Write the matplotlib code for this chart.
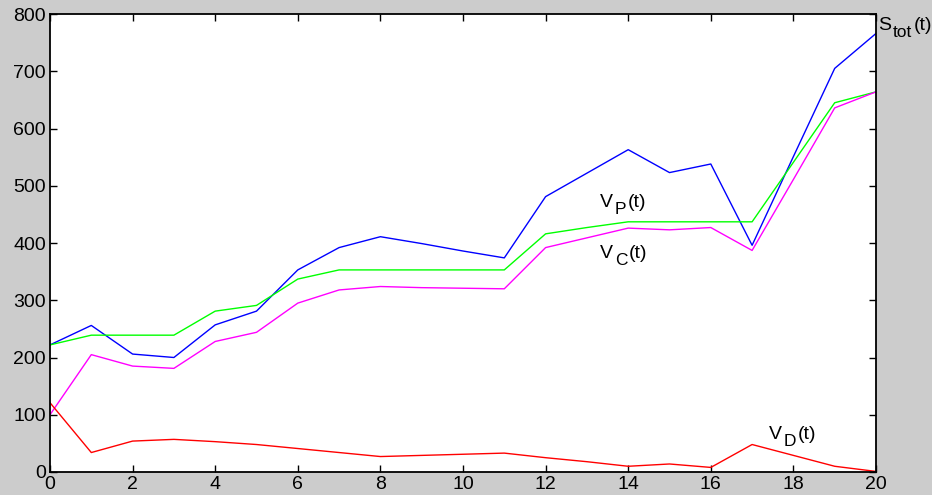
import matplotlib
matplotlib.use("Agg")
import matplotlib.pyplot as plt
from matplotlib.transforms import offset_copy

plt.rcParams['font.family'] = ['Liberation Sans', 'DejaVu Sans']

t = list(range(21))
s_tot = [222, 256, 206, 200, 257, 281, 353, 392, 411, 399, 386, 374, 481, 522, 563, 523, 538, 396, 551, 705, 766]
v_p = [222, 239, 239, 239, 281, 291, 337, 353, 353, 353, 353, 353, 416, 427, 437, 437, 437, 437, 541, 645, 664]
v_c = [100, 205, 185, 181, 228, 244, 295, 318, 324, 322, 321, 320, 392, 409, 426, 423, 427, 387, 511, 636, 664]
v_d = [121, 34, 54, 57, 53, 48, 41, 34, 27, 29, 31, 33, 25, 18, 10, 14, 8, 48, 29, 10, 1]

# (main, subscript, tail)
labels = [('S', 'tot', '(t)'), ('V', 'P', '(t)'), ('V', 'C', '(t)'), ('V', 'D', '(t)')]
xticks = list(range(0, 21, 2))
yticks = list(range(0, 801, 100))

fig = plt.figure(figsize=(9.32, 4.95), dpi=100, facecolor='#cccccc')
ax = fig.add_axes([50/932, 23/495, 826/932, 458/495])
ax.set_facecolor('white')

ax.plot(t, s_tot, color='#0000ff', lw=1.0)
ax.plot(t, v_p, color='#00ff00', lw=1.0)
ax.plot(t, v_c, color='#ff00ff', lw=1.0)
ax.plot(t, v_d, color='#ff0000', lw=1.0)

ax.set_xlim(0, 20)
ax.set_ylim(0, 800)
ax.set_xticks(xticks)
ax.set_yticks(yticks)
ax.tick_params(direction='in', length=5, width=1, top=True, right=True,
               labelsize=14, pad=3, colors='black')
for sp in ax.spines.values():
    sp.set_linewidth(1.3)

renderer = fig.canvas.get_renderer()


def sub_label(x, y, parts, fs=14, sfs=12.5, gap=2, drop=7):
    main, sub, tail = parts
    t1 = ax.text(x, y, main, fontsize=fs, ha='left', va='baseline', clip_on=False)
    w1 = t1.get_window_extent(renderer).width
    tr2 = offset_copy(ax.transData, fig=fig, x=w1 + gap, y=-drop, units='dots')
    t2 = ax.text(x, y, sub, fontsize=sfs, ha='left', va='baseline', transform=tr2, clip_on=False)
    w2 = t2.get_window_extent(renderer).width
    tr3 = offset_copy(ax.transData, fig=fig, x=w1 + gap + w2 + 1, y=0, units='dots')
    ax.text(x, y, tail, fontsize=fs, ha='left', va='baseline', transform=tr3, clip_on=False)


sub_label(20.05, 772, labels[0])
sub_label(13.32, 463, labels[1])
sub_label(13.32, 374, labels[2])
sub_label(17.41, 58, labels[3])

fig.savefig('out.png', dpi=100, facecolor=fig.get_facecolor())
